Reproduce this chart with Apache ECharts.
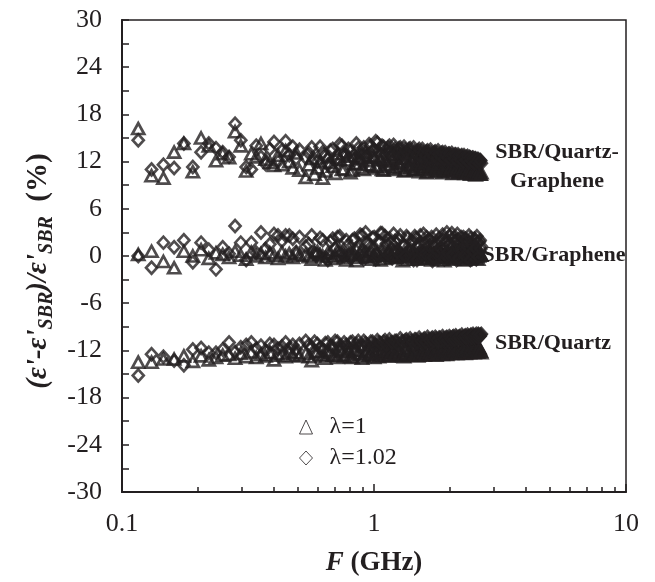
<!DOCTYPE html>
<html>
<head>
<meta charset="utf-8">
<script src="https://cdn.jsdelivr.net/npm/echarts@6/dist/echarts.min.js"></script>
<style>
  html, body { margin: 0; padding: 0; background: #fff; }
  #chart { width: 655px; height: 582px; }
</style>
</head>
<body>
<div id="chart"></div>
<script>
// frequency points (GHz)
const freqs = [
  0.116, 0.131, 0.146, 0.161, 0.176, 0.191, 0.206, 0.221, 0.236, 0.251,
  0.266, 0.281, 0.296, 0.311, 0.326, 0.341, 0.356, 0.371, 0.386, 0.401,
  0.416, 0.431, 0.446, 0.461, 0.476, 0.491, 0.506, 0.536, 0.566, 0.596,
  0.626, 0.656, 0.686, 0.716, 0.746, 0.776, 0.806, 0.836, 0.866, 0.896,
  0.926, 0.956, 0.986, 1.016, 1.046, 1.076, 1.106, 1.136, 1.166, 1.196,
  1.226, 1.256, 1.286, 1.316, 1.346, 1.376, 1.406, 1.436, 1.466, 1.496,
  1.526, 1.556, 1.586, 1.616, 1.646, 1.676, 1.706, 1.736, 1.766, 1.796,
  1.826, 1.856, 1.886, 1.916, 1.946, 1.976, 2.006, 2.036, 2.066, 2.096,
  2.126, 2.156, 2.186, 2.216, 2.246, 2.276, 2.306, 2.336, 2.366, 2.396,
  2.426, 2.456, 2.486, 2.516, 2.546, 2.576, 2.606, 2.636, 2.666
];
// in-between frequency points of the dense part (GHz)
const freqsMid = [
  0.551, 0.581, 0.611, 0.641, 0.671, 0.701, 0.731, 0.761, 0.791, 0.821,
  0.851, 0.881, 0.911, 0.941, 0.971, 1.001, 1.031, 1.061, 1.091, 1.121,
  1.151, 1.181, 1.211, 1.241, 1.271, 1.301, 1.331, 1.361, 1.391, 1.421,
  1.451, 1.481, 1.511, 1.541, 1.571, 1.601, 1.631, 1.661, 1.691, 1.721,
  1.751, 1.781, 1.811, 1.841, 1.871, 1.901, 1.931, 1.961, 1.991, 2.021,
  2.051, 2.081, 2.111, 2.141, 2.171, 2.201, 2.231, 2.261, 2.291, 2.321,
  2.351, 2.381, 2.411, 2.441, 2.471, 2.501, 2.531, 2.561, 2.591, 2.621,
  2.651
];

// SBR/Quartz-Graphene
const qgLam1 = [
  16.2, 10.2, 9.9, 13.2, 14.3, 10.7, 15.0, 14.0, 12.1, 13.0,
  12.5, 15.8, 14.0, 10.8, 13.0, 12.6, 14.3, 12.3, 11.9, 11.5,
  12.8, 11.6, 13.4, 12.0, 11.2, 13.1, 10.9, 10.0, 12.4, 11.2,
  9.9, 12.6, 11.4, 13.0, 11.0, 12.2, 10.6, 11.8, 12.6, 11.2,
  13.2, 11.6, 12.8, 11.4, 12.6, 11.0, 12.2, 11.6, 12.9, 11.2,
  12.5, 11.8, 12.0, 10.8, 12.4, 11.5, 12.2, 11.0, 12.0, 11.4,
  12.3, 11.0, 11.8, 10.6, 11.9, 11.3, 12.0, 11.1, 11.7, 10.9,
  11.8, 11.2, 11.5, 10.8, 11.6, 11.1, 11.4, 10.9, 11.5, 11.0,
  11.3, 10.6, 11.4, 10.9, 11.2, 10.7, 11.3, 10.8, 11.1, 10.5,
  11.2, 10.7, 11.0, 10.4, 10.9, 10.6, 10.8, 10.4, 10.6
];
const qgLam1Mid = [
  11.6, 10.4, 12.0, 10.8, 11.9, 10.5, 12.3, 11.1, 12.7, 10.9,
  11.7, 12.4, 11.0, 12.1, 11.5, 12.6, 11.2, 12.3, 10.9, 12.0,
  11.4, 12.2, 11.0, 11.9, 11.3, 12.4, 10.9, 11.7, 11.2, 12.1,
  11.0, 11.8, 10.7, 11.6, 11.2, 11.9, 10.8, 11.5, 11.1, 11.8,
  10.7, 11.4, 11.0, 11.7, 10.6, 11.3, 10.9, 11.6, 10.8, 11.2,
  10.5, 11.3, 10.9, 11.1, 10.6, 11.2, 10.8, 11.0, 10.5, 11.1,
  10.7, 10.9, 10.4, 11.0, 10.6, 10.8, 10.3, 10.9, 10.5, 10.7,
  10.4
];
const qgLam102 = [
  14.7, 11.0, 11.6, 11.2, 14.3, 11.3, 13.2, 14.3, 13.7, 13.2,
  12.6, 16.8, 14.7, 11.3, 11.0, 14.0, 12.6, 11.7, 13.6, 14.5,
  12.0, 13.4, 14.6, 12.8, 13.9, 12.4, 13.5, 12.5, 13.8, 12.0,
  13.2, 11.6, 13.6, 12.4, 14.0, 12.8, 13.3, 12.2, 13.7, 13.0,
  12.6, 14.2, 13.4, 14.6, 13.2, 14.0, 12.8, 13.8, 13.3, 14.1,
  12.9, 13.7, 13.2, 13.9, 12.7, 13.6, 13.1, 13.8, 12.8, 13.4,
  13.0, 13.6, 12.6, 13.3, 12.9, 13.5, 12.5, 13.2, 12.8, 13.4,
  12.4, 13.1, 12.7, 13.2, 12.3, 13.0, 12.6, 13.1, 12.2, 12.9,
  12.5, 12.9, 12.1, 12.7, 12.4, 12.8, 12.0, 12.6, 12.3, 12.6,
  11.9, 12.5, 12.2, 12.4, 11.8, 12.3, 12.0, 12.2, 11.8
];
const qgLam102Mid = [
  13.1, 12.2, 13.9, 12.7, 13.4, 12.1, 14.2, 12.9, 13.6, 12.5,
  14.3, 13.0, 13.8, 12.6, 14.0, 13.5, 14.4, 12.9, 13.9, 13.4,
  14.0, 12.8, 13.6, 13.2, 13.8, 12.9, 13.5, 13.0, 13.7, 12.7,
  13.3, 12.9, 13.6, 12.6, 13.2, 12.8, 13.4, 12.5, 13.1, 12.7,
  13.3, 12.4, 13.0, 12.6, 13.2, 12.3, 12.9, 12.5, 13.0, 12.2,
  12.8, 12.4, 12.9, 12.1, 12.7, 12.3, 12.8, 12.0, 12.6, 12.2,
  12.7, 11.9, 12.5, 12.1, 12.5, 11.8, 12.4, 12.0, 12.3, 11.8,
  12.1
];

// SBR/Graphene
const gLam1 = [
  0.2, 0.6, -0.7, -1.5, 0.6, 0.0, 0.8, -0.3, 0.4, 0.2,
  -0.2, 0.6, 0.1, -0.4, 0.5, 0.0, 0.3, -0.2, 0.4, 0.1,
  -0.3, 0.5, 0.0, 0.3, -0.2, 0.4, 0.1, 0.2, -0.4, 0.6,
  0.0, 0.4, -0.3, 0.7, 0.1, -0.5, 0.5, 0.2, -0.2, 0.8,
  0.0, 0.3, -0.4, 0.6, 0.1, 0.4, -0.3, 0.5, 0.0, 0.7,
  -0.2, 0.3, 0.1, 0.6, -0.4, 0.4, 0.0, 0.5, -0.1, 0.3,
  0.2, 0.6, -0.3, 0.4, 0.0, 0.5, -0.2, 0.3, 0.1, 0.6,
  -0.4, 0.4, 0.0, 0.5, -0.1, 0.3, 0.2, 0.5, -0.3, 0.4,
  0.0, 0.6, -0.2, 0.3, 0.1, 0.5, -0.4, 0.4, 0.0, 0.5,
  -0.1, 0.3, 0.2, 0.4, -0.3, 0.4, 0.0, 0.3, 0.1
];
const gLam1Mid = [
  -0.1, 0.5, 0.2, -0.5, 0.4, 0.0, 0.7, -0.2, 0.3, 0.1,
  -0.6, 0.5, 0.2, -0.1, 0.6, 0.0, 0.4, -0.5, 0.3, 0.1,
  0.7, -0.2, 0.4, 0.0, 0.5, -0.6, 0.2, 0.3, -0.1, 0.6,
  0.1, -0.4, 0.4, 0.0, 0.5, -0.3, 0.2, 0.6, -0.5, 0.3,
  0.0, 0.5, -0.2, 0.4, 0.1, -0.6, 0.3, 0.5, -0.1, 0.2,
  0.6, -0.4, 0.3, 0.0, 0.4, -0.2, 0.5, 0.1, -0.5, 0.3,
  0.0, 0.4, -0.3, 0.2, 0.5, -0.1, 0.3, 0.0, -0.4, 0.4,
  0.1
];
const gLam102 = [
  0.0, -1.5, 1.7, 1.1, 2.0, -0.8, 1.7, 0.8, -1.7, 1.1,
  0.3, 3.8, 1.7, -0.5, 1.7, 0.4, 3.0, 0.9, 1.5, 2.8,
  2.6, 1.9, 2.6, 2.6, 2.2, 0.5, 2.4, 1.2, 2.6, 0.2,
  2.0, -0.5, 2.2, 2.4, 0.4, 2.0, -0.3, 2.2, 1.0, 2.6,
  3.0, 1.5, 2.3, -0.4, 1.9, 2.9, 2.5, 0.2, 1.7, 2.8,
  0.5, 2.1, -0.2, 1.4, 2.5, 0.6, 1.9, -0.5, 2.3, 1.1,
  2.6, 0.1, 1.6, 2.4, 0.3, 2.0, -0.6, 1.3, 2.7, 0.7,
  1.8, 0.0, 2.2, 1.0, 3.0, -0.3, 1.5, 2.9, 0.4, 1.9,
  -0.5, 2.1, 0.8, 2.4, 0.1, 1.6, 2.2, -0.2, 1.8, 0.6,
  2.3, 0.0, 1.4, 2.1, -0.4, 1.7, 0.5, 2.0, 1.2
];
const gLam102Mid = [
  1.5, 0.3, 2.3, -0.2, 1.8, 0.9, 2.5, 0.0, 1.4, 2.0,
  0.6, 2.7, -0.4, 1.7, 1.1, 2.4, 0.2, 2.9, 0.8, 1.6,
  2.2, -0.3, 1.9, 0.5, 2.6, 1.2, 0.0, 2.3, 0.9, 1.8,
  2.5, -0.5, 1.5, 0.7, 2.8, 0.3, 1.9, 1.3, 2.4, -0.2,
  1.6, 0.6, 2.2, 1.0, 2.7, -0.4, 1.8, 0.4, 2.5, 1.1,
  0.2, 2.3, 1.4, 2.8, -0.3, 1.7, 0.8, 2.4, 0.1, 2.0,
  1.2, 2.6, -0.5, 1.5, 0.6, 2.2, 1.0, 2.5, -0.1, 1.8,
  0.9
];

// SBR/Quartz
const qLam1 = [
  -13.5, -13.5, -13.1, -13.1, -12.7, -13.4, -12.7, -13.2, -12.9, -12.6,
  -12.5, -13.0, -12.4, -12.8, -12.2, -12.9, -12.5, -12.7, -12.3, -13.2,
  -12.6, -12.4, -12.8, -12.2, -12.6, -12.3, -12.7, -12.4, -13.3, -12.2,
  -12.7, -12.0, -12.6, -12.9, -12.1, -12.5, -12.8, -12.0, -12.4, -13.0,
  -12.2, -12.6, -11.9, -12.5, -12.8, -12.1, -12.4, -12.7, -11.9, -12.3,
  -12.6, -12.0, -12.5, -12.8, -11.8, -12.3, -12.6, -12.0, -12.4, -12.7,
  -11.9, -12.2, -12.6, -11.8, -12.3, -12.5, -11.9, -12.2, -12.6, -11.7,
  -12.1, -12.4, -11.8, -12.2, -12.5, -11.7, -12.0, -12.4, -11.8, -12.1,
  -12.4, -11.6, -12.0, -12.3, -11.7, -12.0, -12.4, -11.6, -11.9, -12.3,
  -11.7, -12.0, -12.2, -11.6, -11.9, -12.2, -11.7, -12.0, -12.3
];
const qLam1Mid = [
  -12.8, -12.1, -12.5, -13.0, -12.3, -12.6, -11.9, -12.7, -12.2, -12.9,
  -12.0, -12.5, -12.8, -12.1, -12.4, -12.9, -11.9, -12.3, -12.6, -12.0,
  -12.7, -12.2, -12.5, -11.8, -12.4, -12.7, -12.0, -12.3, -12.6, -11.9,
  -12.4, -12.1, -12.6, -11.8, -12.2, -12.5, -11.9, -12.3, -12.5, -11.8,
  -12.2, -12.4, -11.7, -12.1, -12.5, -11.8, -12.2, -12.4, -11.7, -12.1,
  -12.3, -11.7, -12.0, -12.4, -11.6, -12.1, -12.3, -11.8, -12.0, -12.3,
  -11.6, -12.0, -12.2, -11.7, -11.9, -12.3, -11.6, -12.0, -12.2, -11.7,
  -12.1
];
const qLam102 = [
  -15.2, -12.5, -12.8, -13.3, -13.9, -11.9, -11.7, -12.3, -12.3, -11.9,
  -11.0, -12.2, -11.6, -11.3, -11.0, -11.8, -11.4, -12.0, -11.2, -11.3,
  -11.8, -11.5, -11.0, -11.7, -11.3, -11.9, -11.2, -10.8, -11.6, -11.2,
  -11.9, -11.0, -11.5, -10.9, -11.7, -11.3, -11.0, -11.6, -10.8, -11.4,
  -11.1, -11.7, -10.9, -11.3, -11.0, -11.5, -10.7, -11.2, -11.0, -11.5,
  -10.8, -11.3, -10.9, -11.4, -10.6, -11.1, -10.8, -11.3, -10.6, -11.0,
  -10.7, -11.2, -10.5, -10.9, -10.6, -11.1, -10.4, -10.8, -10.5, -11.0,
  -10.4, -10.8, -10.5, -10.9, -10.3, -10.7, -10.4, -10.8, -10.2, -10.6,
  -10.3, -10.7, -10.2, -10.5, -10.3, -10.6, -10.1, -10.5, -10.2, -10.5,
  -10.0, -10.4, -10.1, -10.4, -9.9, -10.3, -10.0, -10.2, -9.9
];
const qLam102Mid = [
  -11.3, -10.9, -11.7, -11.1, -11.5, -10.8, -11.4, -11.0, -11.6, -10.9,
  -11.2, -11.5, -10.8, -11.3, -10.9, -11.4, -10.7, -11.1, -10.9, -11.3,
  -10.6, -11.0, -10.8, -11.2, -10.5, -10.9, -10.7, -11.1, -10.5, -10.9,
  -10.6, -11.0, -10.4, -10.8, -10.6, -10.9, -10.3, -10.7, -10.5, -10.8,
  -10.3, -10.7, -10.4, -10.8, -10.2, -10.6, -10.4, -10.7, -10.2, -10.5,
  -10.3, -10.6, -10.1, -10.5, -10.3, -10.5, -10.0, -10.4, -10.2, -10.4,
  -10.0, -10.3, -10.1, -10.4, -9.9, -10.3, -10.1, -10.2, -9.9, -10.2,
  -10.0
];

const yTicks = [-30, -24, -18, -12, -6, 0, 6, 12, 18, 24, 30];
const xMinorTicks = [0.2, 0.3, 0.4, 0.5, 0.6, 0.7, 0.8, 0.9, 2, 3, 4, 5, 6, 7, 8, 9];

const INK = '#231f20';
const SERIF = '"Liberation Serif", "DejaVu Serif", serif';

const pairs = (xs, ys) => xs.map((f, i) => [f, ys[i]]);

function markerSeries(name, ys, ysMid, symbol, size) {
    return {
        name: name,
        type: 'scatter',
        data: pairs(freqs, ys).concat(pairs(freqsMid, ysMid)),
        symbol: symbol,
        symbolSize: size,
        itemStyle: { color: 'none', borderColor: INK, borderWidth: 2.7 },
        emphasis: { disabled: true },
        z: 3
    };
}

const chart = echarts.init(document.getElementById('chart'));
chart.setOption({
    animation: false,
    backgroundColor: '#fff',
    grid: {
        left: 122, right: 29, top: 20, bottom: 89,
        show: true, borderColor: INK, borderWidth: 1.5
    },
    legend: {
        orient: 'vertical',
        left: 292, top: 410,
        itemWidth: 13, itemHeight: 14, itemGap: 7,
        textStyle: { fontFamily: SERIF, fontSize: 24, color: INK, padding: [0, 0, 0, 12] },
        itemStyle: { color: 'none', borderColor: INK, borderWidth: 1 },
        data: [
            { name: 'λ=1', icon: 'triangle' },
            { name: 'λ=1.02', icon: 'diamond' }
        ]
    },
    xAxis: [{
        type: 'log', logBase: 10, min: 0.1, max: 10,
        name: '{i|F}{b| (GHz)}',
        nameLocation: 'middle', nameGap: 58,
        nameTextStyle: {
            rich: {
                i: { fontFamily: SERIF, fontSize: 27, fontWeight: 'bold', fontStyle: 'italic', color: INK },
                b: { fontFamily: SERIF, fontSize: 27, fontWeight: 'bold', color: INK }
            }
        },
        axisLine: { onZero: false, lineStyle: { color: INK, width: 2 } },
        axisTick: { inside: true, length: 8, lineStyle: { color: INK, width: 1.5 } },
        axisLabel: { fontFamily: SERIF, fontSize: 26, color: INK, margin: 19 },
        splitLine: { show: false }
    }, {
        type: 'log', logBase: 10, min: 0.1, max: 10,
        position: 'bottom', gridIndex: 0,
        axisLine: { show: false, onZero: false },
        axisLabel: { show: false },
        axisTick: { inside: true, length: 5, customValues: xMinorTicks, lineStyle: { color: INK, width: 1.5 } },
        splitLine: { show: false }
    }],
    yAxis: {
        type: 'value', min: -30, max: 30, interval: 6,
        name: '{m|(ε\'-ε\'}{s|SBR}{m|)/ε\'}{s|SBR}{p|  (%)}',
        nameLocation: 'middle', nameGap: 63,
        nameTextStyle: {
            padding: [0, 30, 0, 0],
            rich: {
                m: { fontFamily: SERIF, fontSize: 29, fontWeight: 'bold', fontStyle: 'italic', color: INK, lineHeight: 35 },
                s: { fontFamily: SERIF, fontSize: 20, fontWeight: 'bold', fontStyle: 'italic', color: INK, lineHeight: 21, verticalAlign: 'bottom' },
                p: { fontFamily: SERIF, fontSize: 29, fontWeight: 'bold', color: INK, lineHeight: 35 }
            }
        },
        axisLine: { onZero: false, lineStyle: { color: INK, width: 2 } },
        axisTick: { inside: true, length: 7, lineStyle: { color: INK, width: 1.5 } },
        minorTick: { show: true, splitNumber: 2, length: 7, lineStyle: { color: INK, width: 1.5 } },
        axisLabel: {
            fontFamily: SERIF, fontSize: 26, color: INK, margin: 20,
            formatter: v => yTicks.includes(v) ? String(v) : ''
        },
        splitLine: { show: false }
    },
    graphic: [
        { type: 'text', x: 557, y: 167, style: { text: 'SBR/Quartz-\nGraphene', fill: INK, font: 'bold 22px ' + SERIF, align: 'center', verticalAlign: 'middle', lineHeight: 29 }, z: 10 },
        { type: 'text', x: 554, y: 255, style: { text: 'SBR/Graphene', fill: INK, font: 'bold 22px ' + SERIF, align: 'center', verticalAlign: 'middle' }, z: 10 },
        { type: 'text', x: 553, y: 343, style: { text: 'SBR/Quartz', fill: INK, font: 'bold 22px ' + SERIF, align: 'center', verticalAlign: 'middle' }, z: 10 }
    ],
    series: [
        markerSeries('λ=1', qgLam1, qgLam1Mid, 'triangle', [12, 11]),
        markerSeries('λ=1.02', qgLam102, qgLam102Mid, 'diamond', [11, 12]),
        markerSeries('λ=1', gLam1, gLam1Mid, 'triangle', [12, 11]),
        markerSeries('λ=1.02', gLam102, gLam102Mid, 'diamond', [11, 12]),
        markerSeries('λ=1', qLam1, qLam1Mid, 'triangle', [12, 11]),
        markerSeries('λ=1.02', qLam102, qLam102Mid, 'diamond', [11, 12])
    ]
});
</script>
</body>
</html>
